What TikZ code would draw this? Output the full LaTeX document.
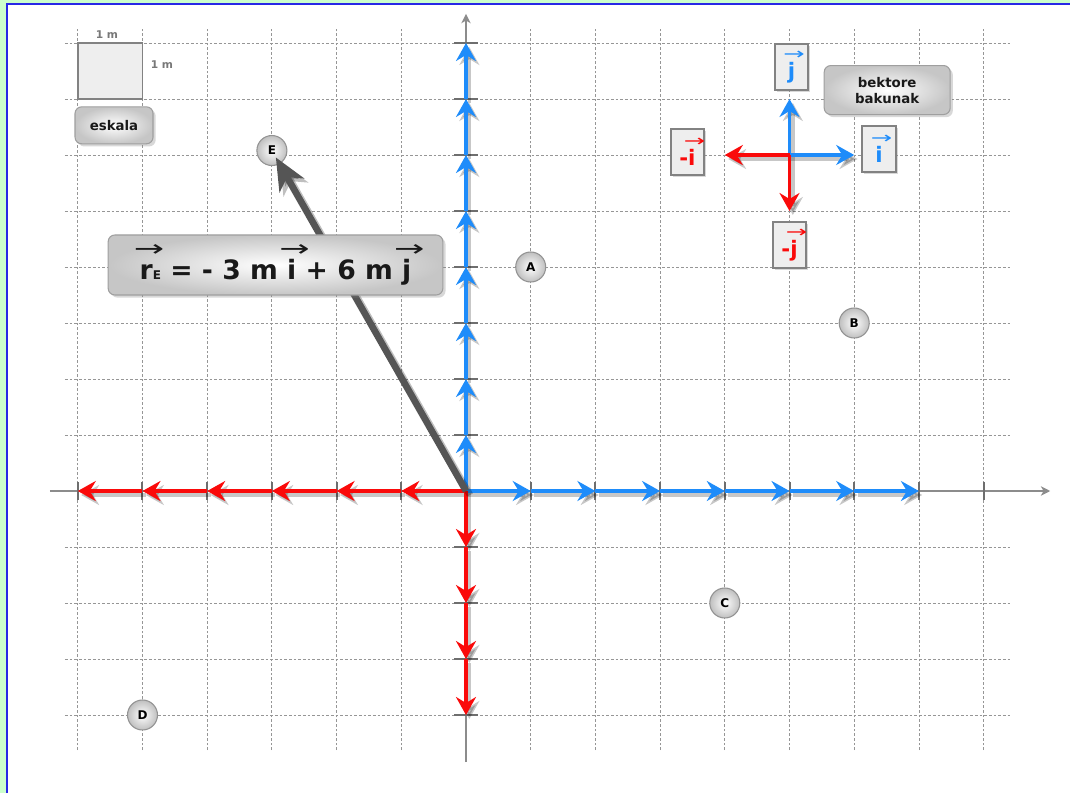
\documentclass[tikz,border=0pt]{standalone}
\usepackage{fontspec}
\usepackage{graphicx}
\setmainfont{DejaVu Sans}
\usetikzlibrary{arrows.meta,shadows}
\definecolor{myblue}{RGB}{30,140,250}
\definecolor{myred}{RGB}{250,10,10}
\definecolor{axgray}{RGB}{140,140,140}
\definecolor{tickgray}{RGB}{110,110,110}
\definecolor{gridgray}{RGB}{150,150,150}
\definecolor{vecgray}{RGB}{85,85,85}
\definecolor{bggreen}{RGB}{204,255,204}
\definecolor{frameblue}{RGB}{40,40,230}
\definecolor{boxfill}{RGB}{238,238,238}
\definecolor{boxedge}{RGB}{130,130,130}
\definecolor{scaletext}{RGB}{120,120,120}

\newcommand\ovx[3]{%
  \leavevmode
  \setbox0=\hbox{#3}%
  \setbox2=\hbox{\scalebox{1.6}[1]{\fontsize{#1}{#1}\selectfont\mdseries →}}%
  \rlap{\hspace{\dimexpr0.5\wd0-0.5\wd2+2pt\relax}\raisebox{#2}{\box2\relax}}%
  \box0\relax}

\newcommand\drawarrows[2]{%
  \foreach \k [remember=\k as \p (initially 0)] in {1,...,8}{\draw[uarrow,#1] (U\p) -- (U\k);}
  \foreach \k [remember=\k as \p (initially 0)] in {1,...,7}{\draw[uarrow,#1] (R\p) -- (R\k);}
  \foreach \k [remember=\k as \p (initially 0)] in {1,...,6}{\draw[uarrow,#2] (L\p) -- (L\k);}
  \foreach \k [remember=\k as \p (initially 0)] in {1,...,4}{\draw[uarrow,#2] (D\p) -- (D\k);}
  \draw[uarrow,#1] (C0) -- (Ci);
  \draw[uarrow,#1] (C0) -- (Cj);
  \draw[uarrow,#2] (C0) -- (Cmi);
  \draw[uarrow,#2] (C0) -- (Cmj);
}

\begin{document}
\begin{tikzpicture}[x=48.525pt,y=42pt,
 gridline/.style={gridgray, line width=0.6pt, dash pattern=on 2pt off 1.5pt},
 axisline/.style={axgray, line width=1.5pt},
 tickline/.style={tickgray, line width=1.5pt},
 uarrow/.style={line width=2.6pt, -{Stealth[length=13.5pt,width=15pt,inset=4.5pt]}},
 ushadow/.style={draw=black, opacity=0.22},
 evec/.style={vecgray, line width=5pt, -{Stealth[length=24pt,width=21pt,inset=7pt]}, shorten >=6pt},
 pt/.style={circle, minimum size=22.5pt, inner sep=0pt, draw=gray!85, line width=0.8pt, inner color=white, outer color=gray!50, font=\fontsize{9}{9}\selectfont\bfseries, text=black},
 glossbox/.style={rounded corners=5pt, draw=gray!75, line width=0.8pt, inner color=white, outer color=gray!45, drop shadow={shadow xshift=2pt, shadow yshift=-2pt, opacity=0.3}, align=center, text=black!90},
 ubox/.style={draw=boxedge, line width=1.5pt, fill=boxfill, minimum width=25pt, minimum height=34.5pt, inner sep=0pt, font=\fontsize{16}{16}\selectfont\bfseries, drop shadow={shadow xshift=1.5pt, shadow yshift=-1.5pt, opacity=0.3}},
 scaletxt/.style={text=scaletext, font=\fontsize{8}{8}\selectfont\bfseries, inner sep=0pt}
]
\useasboundingbox (-7.2025,-5.3929) rectangle (9.3354,8.7679);
\fill[bggreen] (-7.2025,-5.3929) rectangle (9.3354,8.7679);
\fill[white] (-7.0866,-5.3929) rectangle (9.3354,8.6875);
\draw[frameblue, line width=1.5pt] (-7.0866,-5.3929) -- (-7.0866,8.6875) -- (9.3354,8.6875);

% grid
\foreach \x in {-6,...,8} \draw[gridline] (\x,-4.625) -- (\x,8.25);
\foreach \y in {-4,...,8} \draw[gridline] (-6.2,\y) -- (8.44,\y);

% axes
\coordinate (xa) at (-6.43,0); \coordinate (xb) at (9.03,0);
\coordinate (ya) at (0,-4.84); \coordinate (yb) at (0,8.52);
\draw[axisline, -{Stealth[length=7pt,width=7pt,inset=2pt]}] (xa) -- (xb);
\draw[axisline, -{Stealth[length=7pt,width=7pt,inset=2pt]}] (ya) -- (yb);
\foreach \x in {-6,...,8} \draw[tickline] (\x,-0.16) -- (\x,0.16);
\foreach \y in {-4,...,8} \draw[tickline] (-0.18,\y) -- (0.18,\y);

% coordinates
\coordinate (O) at (0,0);
\foreach \k in {0,...,8}{\coordinate (U\k) at (0,\k);}
\foreach \k in {0,...,7}{\coordinate (R\k) at (\k,0);}
\foreach \k in {0,...,6}{\coordinate (L\k) at (-\k,0);}
\foreach \k in {0,...,4}{\coordinate (D\k) at (0,-\k);}
\coordinate (C0) at (5,6);
\coordinate (Ci) at (6,6);
\coordinate (Cj) at (5,7);
\coordinate (Cmi) at (4,6);
\coordinate (Cmj) at (5,5);

% points
\node[pt] (A) at (1,4) {A};
\node[pt] (B) at (6,3) {B};
\node[pt] (C) at (4,-2) {C};
\node[pt] (D) at (-5,-4) {D};
\node[pt] (E) at (-3,6.08) {E};

% unit arrows
\begin{scope}[transform canvas={shift={(2.5pt,-3pt)}}]
  \drawarrows{ushadow}{ushadow}
\end{scope}
\drawarrows{myblue}{myred}

% position vector of E
\draw[evec, draw=black, opacity=0.25, transform canvas={shift={(3pt,-3pt)}}] (O) -- (E.center);
\draw[evec] (O) -- (E.center);

% scale
\node[draw=boxedge, fill=boxfill, line width=1.2pt, minimum width=48.525pt, minimum height=42pt, inner sep=0pt] (sq) at (-5.5,7.5) {};
\node[scaletxt] (sqw) at (-5.549,8.143) {1 m};
\node[scaletxt] (sqh) at (-4.699,7.607) {1 m};
\node[glossbox, minimum width=58.5pt, minimum height=27.75pt, font=\fontsize{10}{12}\selectfont\bfseries] (esk) at (-5.44,6.53) {eskala};

% unit vector labels
\node[glossbox, minimum width=94.5pt, minimum height=36.75pt, font=\fontsize{10}{12}\selectfont\bfseries] (bek) at (6.51,7.16) {bektore\\bakunak};
\node[ubox, text=myblue] (lj) at (5.03,7.57) {\ovx{12}{14pt}{j}};
\node[ubox, text=myblue] (li) at (6.383,6.107) {\ovx{12}{14pt}{i}};
\node[ubox, text=myred] (lmi) at (3.423,6.054) {-\ovx{12}{14pt}{i}};
\node[ubox, text=myred] (lmj) at (5.0,4.393) {-\ovx{12}{14pt}{j}};

% formula
\node[glossbox, minimum width=251pt, minimum height=45pt, font=\fontsize{20}{24}\selectfont\bfseries] (F) at (-2.944,4.036)
  {\ovx{17}{17pt}{r}{\fontsize{9}{9}\selectfont E} = - 3 m \ovx{17}{17pt}{i} + 6 m \ovx{17}{17pt}{j}};
\end{tikzpicture}
\end{document}
